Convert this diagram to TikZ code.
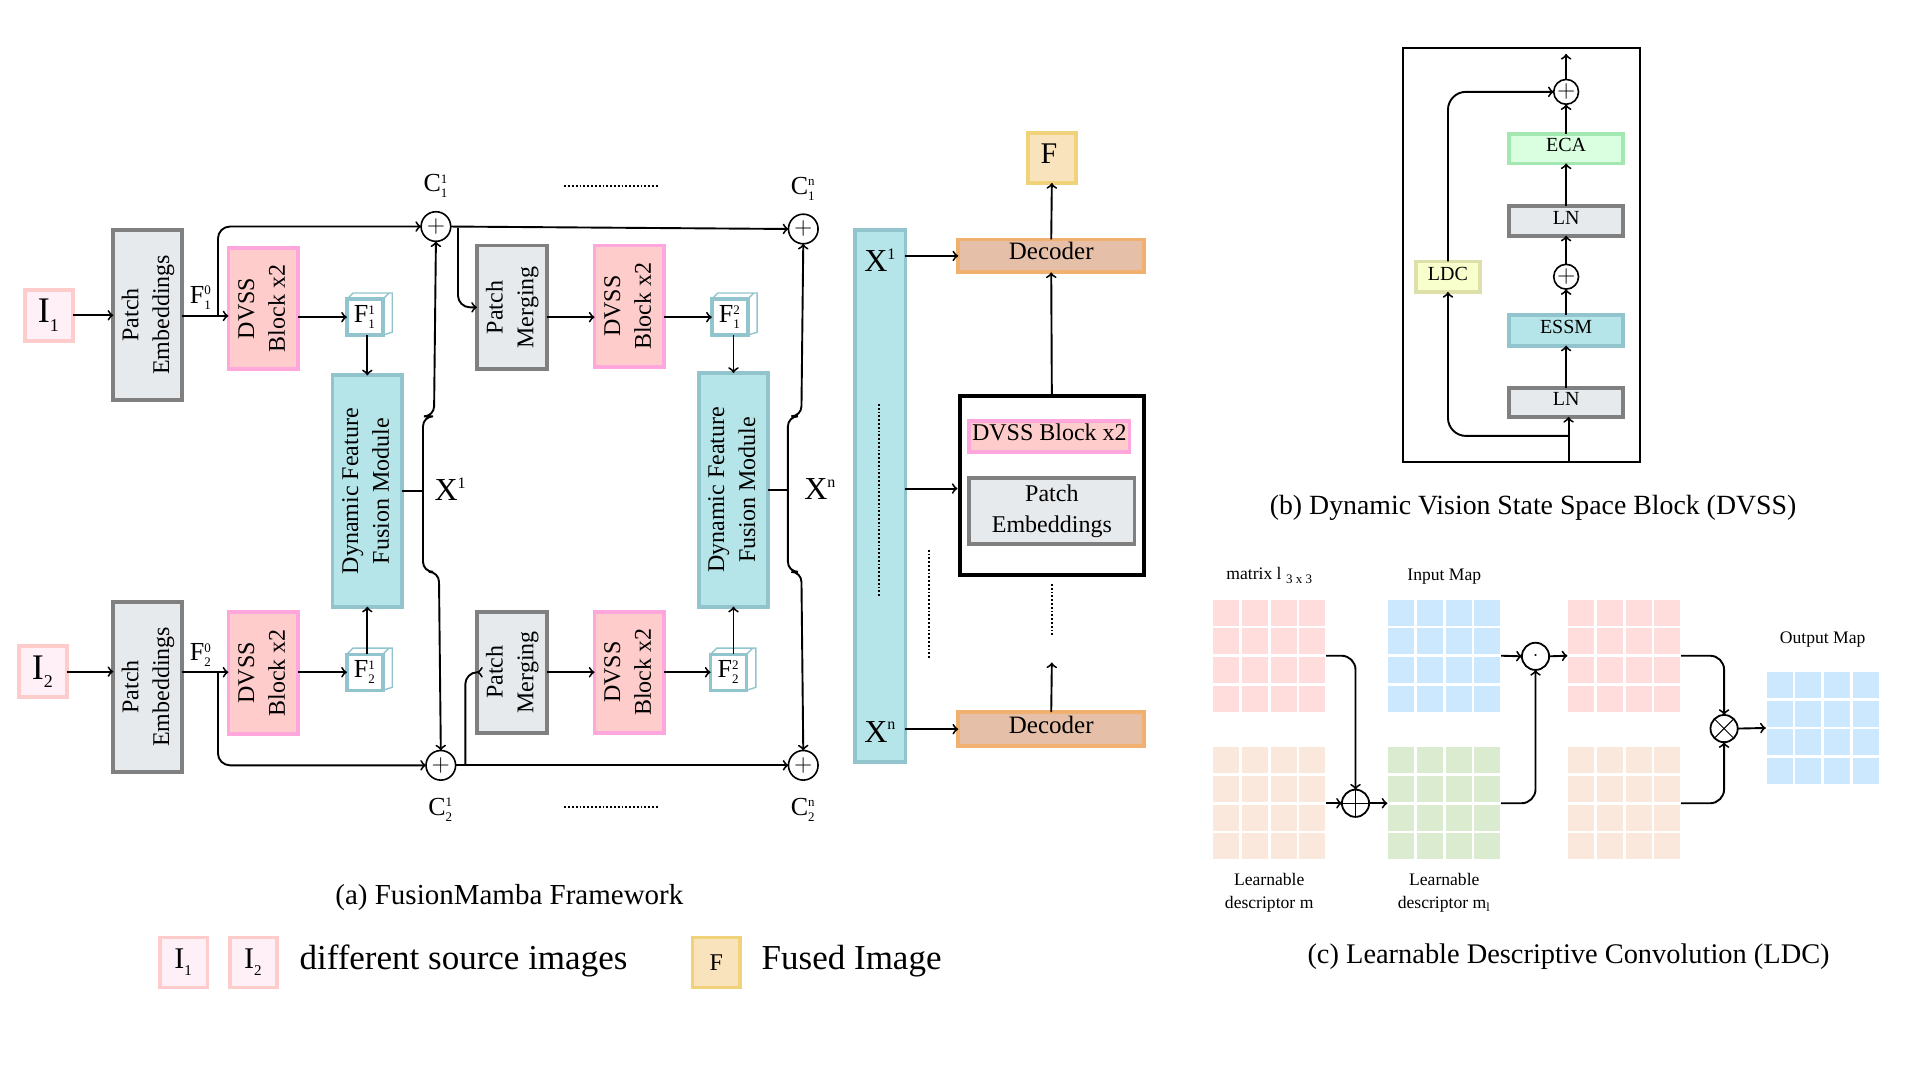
\documentclass[tikz,border=0pt]{standalone}
\usepackage{fontspec}
\setmainfont{Liberation Serif}
\usetikzlibrary{arrows,calc,positioning,matrix}
\definecolor{grayfill}{HTML}{E6EAED}
\definecolor{grayline}{HTML}{808080}
\definecolor{rosefill}{HTML}{FFCCCC}
\definecolor{roseline}{HTML}{FFA6DC}
\definecolor{tealfill}{HTML}{B5E5E8}
\definecolor{tealline}{HTML}{92C4CE}
\definecolor{srcfill}{HTML}{FFF0F8}
\definecolor{srcline}{HTML}{FFCCCC}
\definecolor{fusedfill}{HTML}{F9E3BD}
\definecolor{fusedline}{HTML}{EFD27A}
\definecolor{decfill}{HTML}{E6BFA8}
\definecolor{decline}{HTML}{F0B070}
\definecolor{ecafill}{HTML}{D9FFE0}
\definecolor{ecaline}{HTML}{A3E8B0}
\definecolor{ldcfill}{HTML}{F8FFCC}
\definecolor{ldcline}{HTML}{DDE0A8}
\definecolor{cellpink}{HTML}{FFDDDD}
\definecolor{cellblue}{HTML}{CCE8FF}
\definecolor{cellpeach}{HTML}{FAE8DD}
\definecolor{cellgreen}{HTML}{DAEBCF}
\newcommand{\sizept}[1]{\fontsize{#1}{#1}\selectfont}
\newcommand{\supsub}[2]{$^{\scriptscriptstyle\mathrm{#1}}_{\scriptscriptstyle\mathrm{#2}}$}
\newcommand{\vlabel}[1]{\rotatebox{90}{\raisebox{2.2pt}{\begin{tabular}{@{}c@{}}#1\end{tabular}}}}
\newcommand{\cubefaces}[1]{\draw[CubeLine] (#1.north west) -- ++(5,-5) -- ++(32,0) -- ++(0,32) -- (#1.south east) (#1.north east) -- ++(5,-5);}
\newcommand{\cellgrid}[4]{\matrix (#1) at (#2,#3) [matrix of nodes, nodes in empty cells, ampersand replacement=\&, inner sep=0pt, column sep=1.3pt, row sep=1.3pt, nodes={CellBox, fill=#4}]{ \& \& \& \\ \& \& \& \\ \& \& \& \\ \& \& \& \\};}
\begin{document}
\begin{tikzpicture}[x=0.6122pt, y=-0.6122pt, line width=0.95pt,
	wh/.style 2 args={minimum width=#1*0.6122pt-1.9pt, minimum height=#2*0.6122pt-1.9pt},
	BaseBox/.style={draw, line width=1.9pt, inner sep=0pt, outer sep=0pt, align=center, font=\fontsize{12}{15.4}\selectfont},
	GrayBox/.style={BaseBox, draw=grayline, fill=grayfill},
	RoseBox/.style={BaseBox, draw=roseline, fill=rosefill},
	TealBox/.style={BaseBox, draw=tealline, fill=tealfill},
	SrcBox/.style={BaseBox, draw=srcline, fill=srcfill},
	FusedBox/.style={BaseBox, draw=fusedline, fill=fusedfill},
	DecBox/.style={BaseBox, draw=decline, fill=decfill, text height=9pt, text depth=5pt},
	SmallBox/.style={font=\sizept{10}, text height=7pt, text depth=4pt},
	CubeFront/.style={draw=tealline, fill=white, line width=1.7pt, inner sep=0pt, outer sep=0pt, minimum size=18pt, font=\sizept{13}},
	CubeLine/.style={draw=tealline, line width=0.7pt},
	SumNode/.style={draw, circle, fill=white, line width=0.8pt, inner sep=0pt, outer sep=0pt, minimum size=14.8pt, font=\sizept{13}},
	SumSmall/.style={SumNode, minimum size=12.4pt, font=\sizept{12}},
	MapOp/.style={draw, circle, fill=white, line width=0.9pt, inner sep=0pt, outer sep=0pt, minimum size=13.6pt},
	CellBox/.style={inner sep=0pt, outer sep=0pt, minimum size=13pt, anchor=center},
	Tag/.style={inner sep=0pt, font=\sizept{13}},
	BigTag/.style={inner sep=0pt, font=\sizept{16}},
	Cap/.style={inner sep=0pt, font=\sizept{14.5}},
	Legend/.style={inner sep=0pt, font=\sizept{17.5}},
	MapTag/.style={inner sep=0pt, align=center, font=\fontsize{8.8}{11.7}\selectfont},
	DotLine/.style={densely dotted, line width=0.9pt}]
	\useasboundingbox (0,0) rectangle (1568,882);

	% (a) framework
	\node[SrcBox, wh={42}{45}, font=\sizept{18}] (srcA) at (40,257.5) {I\supsub{}{1}};
	\node[SrcBox, wh={42}{45}, font=\sizept{18}] (srcB) at (35,548.5) {I\supsub{}{2}};
	\node[GrayBox, wh={59}{142}] (patchA) at (120.5,257) {\vlabel{Patch\\Embeddings}};
	\node[GrayBox, wh={59}{142}] (patchB) at (120.5,561) {\vlabel{Patch\\Embeddings}};
	\node[RoseBox, wh={60}{102}] (dvssA) at (215,252) {\vlabel{DVSS\\Block x2}};
	\node[RoseBox, wh={60}{103}] (dvssB) at (215,549.5) {\vlabel{DVSS\\Block x2}};
	\node[CubeFront] (cubeA) at (298,259) {F\supsub{1}{1}};
	\node[CubeFront] (cubeB) at (298,549) {F\supsub{1}{2}};
	\node[TealBox, wh={60}{192}] (fusionA) at (300,401) {\vlabel{Dynamic Feature\\Fusion Module}};
	\node[SumNode] (sumA) at (356,185) {$+$};
	\node[SumNode] (sumB) at (360,625) {$+$};
	\node[GrayBox, wh={60}{104}] (mergeA) at (418,251) {\vlabel{Patch\\Merging}};
	\node[GrayBox, wh={60}{102}] (mergeB) at (418,549) {\vlabel{Patch\\Merging}};
	\node[RoseBox, wh={60}{102}] (dvssC) at (514,250) {\vlabel{DVSS\\Block x2}};
	\node[RoseBox, wh={60}{102}] (dvssD) at (514,549) {\vlabel{DVSS\\Block x2}};
	\node[CubeFront] (cubeC) at (596,259) {F\supsub{2}{1}};
	\node[CubeFront] (cubeD) at (595,549) {F\supsub{2}{2}};
	\node[TealBox, wh={60}{194}] (fusionB) at (599,400) {\vlabel{Dynamic Feature\\Fusion Module}};
	\node[SumNode] (sumC) at (656,187) {$+$};
	\node[SumNode] (sumD) at (656,625) {$+$};
	\foreach \c in {cubeA,cubeB,cubeC,cubeD} {\cubefaces{\c}}

	\node[TealBox, wh={44}{438}] (barX) at (719,405) {};
	\node[BigTag] (barTop) at (719,216) {X\supsub{1}{}};
	\node[BigTag] (barEnd) at (719,601) {X\supsub{n}{}};
	\node[DecBox, wh={155}{30}, font=\sizept{12.5}] (decoderA) at (858.5,209) {Decoder};
	\node[DecBox, wh={155}{31}, font=\sizept{12.5}] (decoderB) at (858.5,595.5) {Decoder};
	\node[FusedBox, wh={42}{44}, font=\sizept{15}, text height=10pt, text depth=4pt] (fused) at (859,129) {F\hspace{3pt}};
	\node[draw, line width=2pt, inner sep=0pt, minimum width=92.3pt, minimum height=89.2pt] (stage) at (859,396.5) {};
	\node[RoseBox, wh={134}{29}, text height=9pt, text depth=5pt] (stageDvss) at (857,356.5) {DVSS Block x2};
	\node[GrayBox, wh={138}{57}] (stagePatch) at (859,417.5) {Patch\\Embeddings};

	\node[Tag] (tagFA) at (164,243) {F\supsub{0}{1}};
	\node[Tag] (tagFB) at (164,535) {F\supsub{0}{2}};
	\node[Tag, above=6.5pt of sumA] (tagCA) {C\supsub{1}{1}};
	\node[Tag, below=8.5pt of sumB] (tagCB) {C\supsub{1}{2}};
	\node[Tag, above=6.5pt of sumC] (tagCC) {C\supsub{n}{1}};
	\node[Tag, below=8.5pt of sumD] (tagCD) {C\supsub{n}{2}};
	\node[BigTag] (tagXA) at (368,403) {X\supsub{1}{}};
	\node[BigTag] (tagXB) at (670,403) {X\supsub{n}{}};

	\coordinate (splitA) at (178,258);
	\coordinate (splitB) at (178,549);
	\coordinate (splitC) at (374,186);
	\coordinate (splitD) at (380,625);
	\draw[->] (srcA.east) -- (patchA.west |- srcA.east);
	\draw[->] (srcB.east) -- (patchB.west |- srcB.east);
	\draw[->] (patchA.east |- splitA) -- (dvssA.west |- splitA);
	\draw[->] (patchB.east |- splitB) -- (dvssB.west |- splitB);
	\draw[->, rounded corners=6pt] (splitA) |- (sumA.west);
	\draw[->, rounded corners=6pt] (splitB) |- (sumB.west);
	\draw[->] (dvssA.east |- cubeA.west) -- (cubeA.west);
	\draw[->] (dvssB.east |- cubeB.west) -- (cubeB.west);
	\draw[->] (cubeA.south -| fusionA.north) -- (fusionA.north);
	\draw[->] (cubeB.north -| fusionA.south) -- (fusionA.south);
	\draw (fusionA.east) -- ++(17,0) coordinate (braceA);
	\draw[->, rounded corners=5pt] (braceA) -- ++(0,-61) -- ++(9,0) -- (sumA.south);
	\draw[->, rounded corners=5pt] (braceA) -- ++(0,66) -- ++(13,0) -- (sumB.north);
	\draw[->] (sumA.east) -- (sumC.west);
	\draw[->] (sumB.east) -- (sumD.west);
	\draw[->, rounded corners=6pt] (splitC) |- (mergeA.west);
	\draw[->, rounded corners=6pt] (splitD) |- (mergeB.west);
	\draw[->] (mergeA.east |- cubeA) -- (dvssC.west |- cubeA);
	\draw[->] (mergeB.east) -- (dvssD.west);
	\draw[->] (dvssC.east |- cubeC) -- (cubeC.west);
	\draw[->] (dvssD.east) -- (cubeD.west);
	\draw[->] (cubeC.south -| fusionB.north) -- (fusionB.north);
	\draw[->] (cubeD.north -| fusionB.south) -- (fusionB.south);
	\draw (fusionB.east) -- ++(16,0) coordinate (braceB);
	\draw[->, rounded corners=5pt] (braceB) -- ++(0,-60) -- ++(11,0) -- (sumC.south);
	\draw[->, rounded corners=5pt] (braceB) -- ++(0,67) -- ++(11,0) -- (sumD.north);
	\draw[->] (barX.east |- decoderA) -- (decoderA.west);
	\draw[->] (barX.east |- decoderB) -- (decoderB.west);
	\draw[->] (barX.east |- 0,399) -- (stage.west |- 0,399);
	\draw[->] (decoderA.north) -- (fused.south);
	\draw[->] (stage.north) -- (decoderA.south);
	\coordinate (gapUp) at (859,541);
	\draw[->] (decoderB.north) -- (gapUp);

	\coordinate (dotsA) at (461,152); \coordinate (dotsB) at (538,152);
	\coordinate (dotsC) at (461,659); \coordinate (dotsD) at (538,659);
	\coordinate (dotsE) at (718,330); \coordinate (dotsF) at (718,487);
	\coordinate (dotsG) at (759,449); \coordinate (dotsH) at (759,538);
	\coordinate (dotsI) at (859,477); \coordinate (dotsJ) at (859,520);
	\draw[DotLine] (dotsA) -- (dotsB);
	\draw[DotLine] (dotsC) -- (dotsD);
	\draw[DotLine] (dotsE) -- (dotsF);
	\draw[DotLine] (dotsG) -- (dotsH);
	\draw[DotLine] (dotsI) -- (dotsJ);

	\node[Cap] (capA) at (416,733) {(a) FusionMamba Framework};
	\node[SrcBox, wh={42}{44}, font=\sizept{15}] (keyA) at (150,786) {I\supsub{}{1}};
	\node[SrcBox, wh={42}{44}, font=\sizept{15}] (keyB) at (207,786) {I\supsub{}{2}};
	\node[Legend] (keyText) at (378.5,785) {different source images};
	\node[FusedBox, wh={42}{44}, font=\sizept{12}] (keyC) at (585,786) {F};
	\node[Legend] (keyFused) at (695.5,785) {Fused Image};

	% (b) DVSS block
	\node[draw, line width=0.9pt, inner sep=0pt, minimum width=118.2pt, minimum height=207pt] (frame) at (1242.5,208) {};
	\node[GrayBox, wh={96}{27}, SmallBox] (lnA) at (1279,328.5) {LN};
	\node[TealBox, wh={96}{28}, SmallBox, above=21pt of lnA.north, anchor=south] (essm) {ESSM};
	\node[SumSmall] (sumE) at (1279,226) {$+$};
	\node[GrayBox, wh={96}{27}, SmallBox] (lnB) at (1279,180.5) {LN};
	\node[BaseBox, draw=ecaline, fill=ecafill, wh={96}{27}, SmallBox] (eca) at (1279,121.5) {ECA};
	\node[SumSmall] (sumF) at (1279,75) {$+$};
	\node[BaseBox, draw=ldcline, fill=ldcfill, wh={55}{28}, SmallBox, text depth=3pt] (ldc) at (1182.5,226) {LDC};
	\coordinate (feedIn) at (1281,377);
	\coordinate (feedOut) at (1279,44);
	\coordinate (feedSplit) at (1281,356);
	\draw[->] (feedIn) -- (feedIn |- lnA.south);
	\draw[->] (lnA.north) -- (essm.south);
	\draw[->] (essm.north) -- (sumE.south);
	\draw[->] (sumE.north) -- (lnB.south);
	\draw[->] (lnB.north) -- (eca.south);
	\draw[->] (eca.north) -- (sumF.south);
	\draw[->] (sumF.north) -- (feedOut);
	\draw[->, rounded corners=9pt] (feedSplit) -| (ldc.south);
	\draw[->, rounded corners=9pt] (ldc.north) |- (sumF.west);
	\node[Cap, font=\sizept{13.9}] (capB) at (1252,415) {(b) Dynamic Vision State Space Block (DVSS)};

	% (c) LDC
	\cellgrid{gridA}{1036.5}{535.5}{cellpink}
	\cellgrid{gridB}{1179.5}{535.5}{cellblue}
	\cellgrid{gridC}{1326.5}{535.5}{cellpink}
	\cellgrid{gridD}{1036.5}{656}{cellpeach}
	\cellgrid{gridE}{1179.5}{656}{cellgreen}
	\cellgrid{gridF}{1326.5}{656}{cellpeach}
	\cellgrid{gridG}{1488.5}{594.5}{cellblue}
	\node[MapOp, path picture={\draw[line width=0.5pt] (path picture bounding box.north) -- (path picture bounding box.south) (path picture bounding box.west) -- (path picture bounding box.east);}] (opPlus) at (1107,656) {};
	\node[MapOp] (opDot) at (1254,536) {$\cdot$};
	\node[MapOp, path picture={\draw[line width=0.5pt] (path picture bounding box.north west) -- (path picture bounding box.south east) (path picture bounding box.south west) -- (path picture bounding box.north east);}] (opCross) at (1408,595) {};
	\draw[->, rounded corners=7pt] (gridA.east) -| (opPlus.north);
	\draw[->] (gridD.east) -- (opPlus.west);
	\draw[->] (opPlus.east) -- (gridE.west);
	\draw[->] (gridB.east) -- (opDot.west);
	\draw[->] (opDot.east) -- (gridC.west);
	\draw[->, rounded corners=7pt] (gridE.east) -| (opDot.south);
	\draw[->, rounded corners=7pt] (gridC.east) -| (opCross.north);
	\draw[->, rounded corners=7pt] (gridF.east) -| (opCross.south);
	\draw[->] (opCross.east) -- (gridG.west);
	\node[MapTag, above=7pt of gridA] (tagMatrix) {matrix l {\sizept{6.5}\raisebox{-2pt}{3 x 3}}};
	\node[MapTag, above=7pt of gridB] (tagInput) {Input Map};
	\node[MapTag, above=11.5pt of gridG] (tagOutput) {Output Map};
	\node[MapTag, below=6pt of gridD] (tagLearnA) {Learnable\\descriptor m};
	\node[MapTag, below=6pt of gridE] (tagLearnB) {Learnable\\descriptor m$_{\mathrm{l}}$};
	\node[Cap, font=\sizept{14.2}] (capC) at (1281,781) {(c) Learnable Descriptive Convolution (LDC)};
\end{tikzpicture}
\end{document}
